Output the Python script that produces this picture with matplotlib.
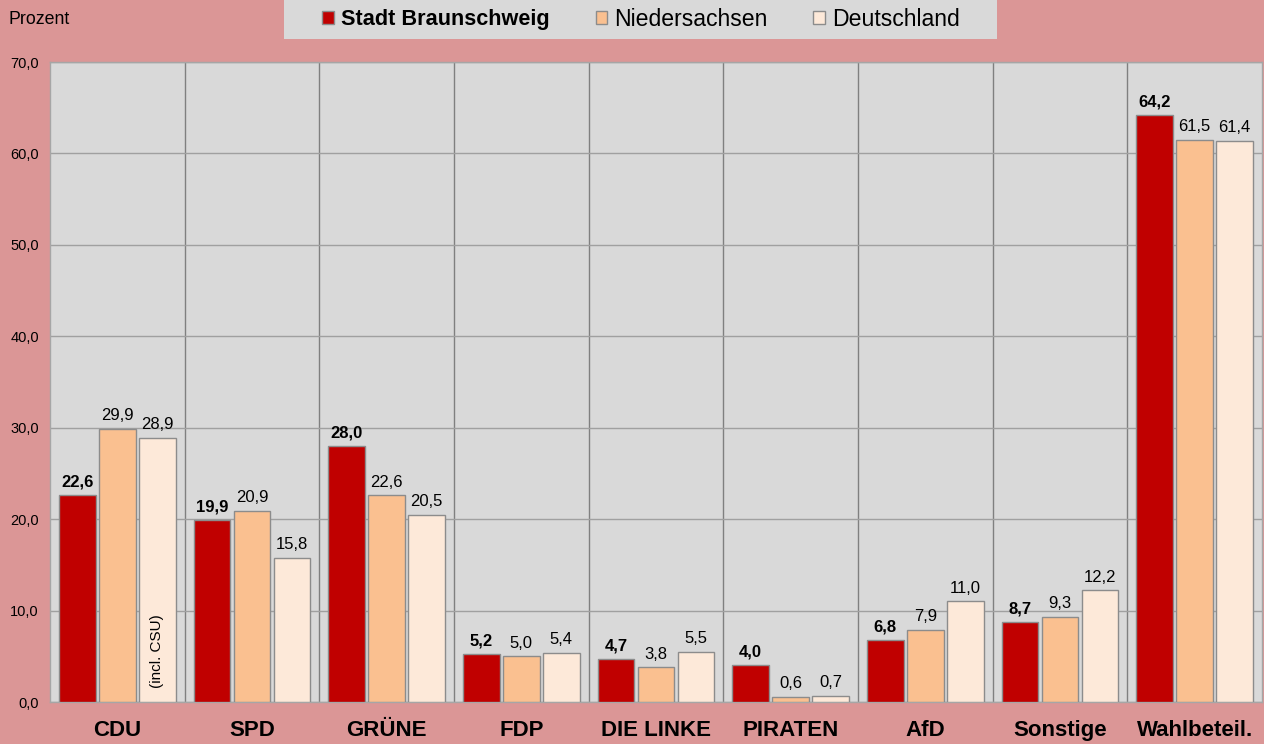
import matplotlib
matplotlib.use('Agg')
import matplotlib.pyplot as plt
from matplotlib.patches import Patch, Rectangle
import numpy as np

plt.rcParams['font.family'] = ['Liberation Sans', 'DejaVu Sans']

# Daten (Prozent)
parteien = ['CDU', 'SPD', 'GRÜNE', 'FDP', 'DIE LINKE', 'PIRATEN', 'AfD', 'Sonstige', 'Wahlbeteil.']
braunschweig = [22.6, 19.9, 28.0, 5.2, 4.7, 4.0, 6.8, 8.7, 64.2]
niedersachsen = [29.9, 20.9, 22.6, 5.0, 3.8, 0.6, 7.9, 9.3, 61.5]
deutschland = [28.9, 15.8, 20.5, 5.4, 5.5, 0.7, 11.0, 12.2, 61.4]
serien = ['Stadt Braunschweig', 'Niedersachsen', 'Deutschland']
y_ticks = [0, 10, 20, 30, 40, 50, 60, 70]

FIG_BG = '#db9696'
AX_BG = '#d9d9d9'
FARBEN = ['#c00000', '#fac090', '#fde9d9']
EDGE = '#8c8c8c'


def de(v):
    return f'{v:.1f}'.replace('.', ',')


fig = plt.figure(figsize=(12.64, 7.44), dpi=100, facecolor=FIG_BG)
ax = fig.add_axes([50 / 1264, 42 / 744, 1212 / 1264, 640 / 744])
ax.set_facecolor(AX_BG)

x = np.arange(len(parteien))
breite = 0.27
abstand = 0.297

for i, (werte, farbe) in enumerate(zip([braunschweig, niedersachsen, deutschland], FARBEN)):
    bars = ax.bar(x + (i - 1) * abstand, werte, breite, color=farbe,
                  edgecolor=EDGE, linewidth=1, zorder=3)
    ax.bar_label(bars, labels=[de(v) for v in werte], padding=4,
                 fontsize=12, fontweight='bold' if i == 0 else 'normal',
                 color='black')

# Hinweis CDU/CSU
ax.text(x[0] + abstand, 1.5, '(incl. CSU)', rotation=90, ha='center', va='bottom',
        fontsize=11, zorder=4)

ax.set_xlim(-0.5, len(parteien) - 0.5)
ax.set_ylim(0, 70)
ax.set_yticks(y_ticks)
ax.set_yticklabels([de(v) for v in y_ticks], fontsize=10.5)
ax.set_xticks(x)
ax.set_xticklabels(parteien, fontsize=16, fontweight='bold')
ax.set_xticks(np.arange(0.5, len(parteien) - 0.5, 1), minor=True)
ax.tick_params(axis='both', which='both', length=0)
ax.tick_params(axis='y', pad=8)
ax.tick_params(axis='x', pad=13)

ax.grid(True, axis='y', which='major', color='#a0a0a0', lw=1, zorder=1)
ax.grid(True, axis='x', which='minor', color='#808080', lw=1, zorder=1)
ax.grid(False, axis='x', which='major')
for s in ax.spines.values():
    s.set_color('#a6a6a6')
    s.set_linewidth(1)

fig.text(8 / 1264, 1 - 20 / 744, 'Prozent', fontsize=12.8, va='center', ha='left')

# Legende
fig.patches.append(Rectangle((284 / 1264, 1 - 39 / 744), 713 / 1264, 39 / 744,
                             transform=fig.transFigure, facecolor=AX_BG,
                             edgecolor='none', zorder=0))
handles = [Patch(facecolor=f, edgecolor=EDGE, linewidth=1) for f in FARBEN]
leg = fig.legend(handles, serien, loc='center', bbox_to_anchor=(641 / 1264, 1 - 19 / 744),
                 ncol=3, frameon=False, fontsize=16.6, handlelength=0.5, handleheight=0.5,
                 handletextpad=0.3, columnspacing=2.0, borderpad=0)
leg.get_texts()[0].set_fontweight('bold')
leg.get_texts()[0].set_fontsize(15.6)

fig.savefig('out.png', dpi=100, facecolor=FIG_BG)
